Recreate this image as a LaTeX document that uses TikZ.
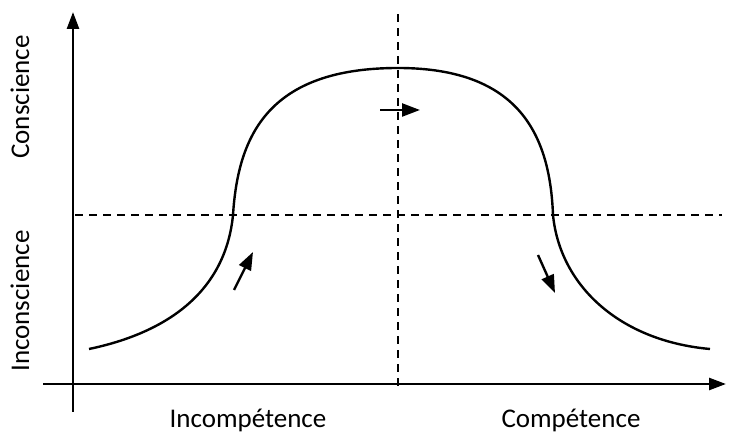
\documentclass[tikz,border=0pt]{standalone}
\usepackage{fontspec}
\setmainfont{Carlito}
\usetikzlibrary{arrows.meta}
\begin{document}
\begin{tikzpicture}[x=1pt,y=1pt,line cap=butt,line join=round,
  axis/.style={line width=2.6pt,-{Triangle[length=17pt,width=12pt]}},
  guide/.style={line width=2pt,dash pattern=on 8pt off 6pt},
  move/.style={line width=2.4pt,-{Triangle[length=18pt,width=13pt]}},
  lbl/.style={font=\fontsize{27}{32}\selectfont,inner sep=0pt}]
  \useasboundingbox (0,0) rectangle (734,436);
  % axes
  \coordinate (xs) at (43,52);
  \coordinate (xe) at (726,52);
  \coordinate (ys) at (73,24);
  \coordinate (ye) at (73,424);
  \draw[axis] (xs) -- (xe);
  \draw[axis] (ys) -- (ye);
  % dashed guides
  \coordinate (hs) at (75,221);
  \coordinate (he) at (722,221);
  \coordinate (vs) at (398,50);
  \coordinate (ve) at (398,424);
  \draw[guide] (hs) -- (he);
  \draw[guide] (vs) -- (ve);
  % curve
  \coordinate (c0) at (89,87);
  \coordinate (c1) at (233,221);
  \coordinate (c2) at (398,368);
  \coordinate (c3) at (553,221);
  \coordinate (c4) at (710,87);
  \draw[line width=2.4pt]
    (c0) .. controls (175,105) and (226,150) .. (c1)
         .. controls (238,300) and (268,368) .. (c2)
         .. controls (520,368) and (550,300) .. (c3)
         .. controls (560,150) and (620,95) .. (c4);
  % arrows
  \coordinate (a1) at (234,146);
  \coordinate (b1) at (253,184);
  \coordinate (a2) at (380,326);
  \coordinate (b2) at (420,326);
  \coordinate (a3) at (538,181);
  \coordinate (b3) at (555,143);
  \draw[move] (a1) -- (b1);
  \draw[move] (a2) -- (b2);
  \draw[move] (a3) -- (b3);
  % labels
  \node[lbl,rotate=90] (cons) at (20,339) {Conscience};
  \node[lbl,rotate=90] (incons) at (20,135) {Inconscience};
  \node[lbl] (incomp) at (248,16) {Incompétence};
  \node[lbl] (comp) at (571,16) {Compétence};
\end{tikzpicture}
\end{document}
